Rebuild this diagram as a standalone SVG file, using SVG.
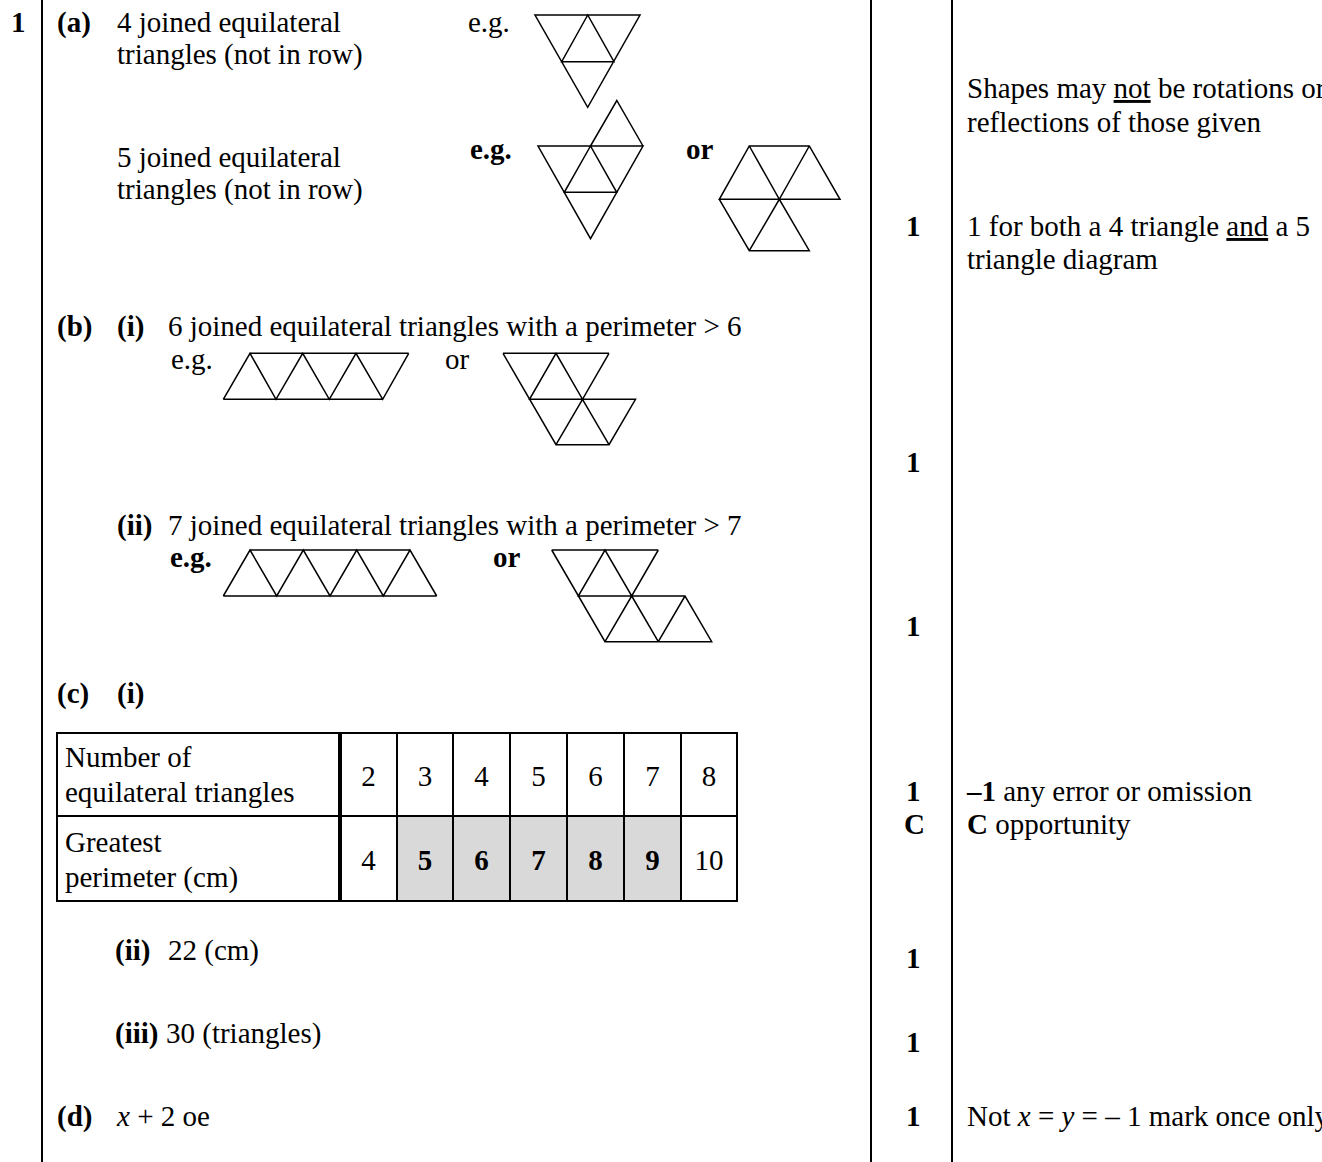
<svg xmlns="http://www.w3.org/2000/svg" width="1322" height="1162" viewBox="0 0 1322 1162">
<style>
text{font-family:"Liberation Serif","Times New Roman",serif;font-size:29px;fill:#000}
.b{font-weight:bold}
.i{font-style:italic}
.u{text-decoration:underline}
.rule{stroke:#000;stroke-width:2;fill:none}
.tri{stroke:#000;stroke-width:1.5;fill:none;stroke-linejoin:miter}
.grid{stroke:#000;stroke-width:2;fill:none}
.shade{fill:#d9d9d9}
.c{text-anchor:middle}
</style>
<rect width="1322" height="1162" fill="#fff"/>

<g id="rules">
<line class="rule" x1="42" y1="0" x2="42" y2="1162"/>
<line class="rule" x1="871" y1="0" x2="871" y2="1162"/>
<line class="rule" x1="952" y1="0" x2="952" y2="1162"/>
</g>

<g id="part-a">
<text class="b" x="11" y="32">1</text>
<text class="b" x="57" y="32">(a)</text>
<text x="117" y="32">4 joined equilateral</text>
<text x="117" y="64">triangles (not in row)</text>
<text x="468" y="32">e.g.</text>
<g id="shape-a4" class="tri">
<path d="M535,15 L640,15 L587.7,107.3 Z M587.7,15 L561.7,61.7 L614,61.7 Z"/>
</g>
<text x="117" y="167">5 joined equilateral</text>
<text x="117" y="199">triangles (not in row)</text>
<text class="b" x="470" y="159">e.g.</text>
<g id="shape-a5" class="tri">
<path d="M538,146 L643,146 L590.5,238.7 Z M590.5,146 L564.3,192.3 L616.7,192.3 Z M590.5,146 L616.8,100.5 L643,146"/>
</g>
<text class="b" x="686" y="159">or</text>
<g id="shape-a5b" class="tri">
<path d="M749.3,146 L809.3,146 L840,199.3 L719.3,199.3 Z M749.3,146 L779.3,199.3 L809.3,146 M719.3,199.3 L749.3,250.7 L809.3,250.7 L779.3,199.3 L749.3,250.7"/>
</g>
</g>

<g id="part-b">
<text class="b" x="57" y="336">(b)</text>
<text class="b" x="117" y="336">(i)</text>
<text x="168" y="336">6 joined equilateral triangles with a perimeter &gt; 6</text>
<text x="171" y="369">e.g.</text>
<g id="shape-b6a" class="tri">
<path d="M250,353.3 L408.7,353.3 M223.3,399.3 L382.7,399.3 M223.3,399.3 L250,353.3 L276,399.3 L302.7,353.3 L329.3,399.3 L356,353.3 L382.7,399.3 L408.7,353.3"/>
</g>
<text x="445" y="369">or</text>
<g id="shape-b6b" class="tri">
<path d="M503,353.3 L609,353.3 M503,353.3 L556,444.7 L609,444.7 L635.5,399.3 L529.5,399.3 L556,353.3 L582.5,399.3 L609,353.3 M582.5,399.3 L556,444.7 M582.5,399.3 L609,444.7"/>
</g>
<text class="b" x="117" y="535">(ii)</text>
<text x="168" y="535">7 joined equilateral triangles with a perimeter &gt; 7</text>
<text class="b" x="170" y="567">e.g.</text>
<g id="shape-b7a" class="tri">
<path d="M250,550 L410,550 M223.3,596 L436.7,596 M223.3,596 L250,550 L276.7,596 L303.3,550 L330,596 L356.7,550 L383.3,596 L410,550 L436.7,596"/>
</g>
<text class="b" x="493" y="567">or</text>
<g id="shape-b7b" class="tri">
<path d="M551.7,550 L658.3,550 M551.7,550 L605,641.7 L711.7,641.7 L685,596 L578.3,596 L605,550 L631.7,596 L658.3,550 M631.7,596 L605,641.7 M631.7,596 L658.3,641.7 M685,596 L658.3,641.7"/>
</g>
</g>

<g id="part-c">
<text class="b" x="57" y="703">(c)</text>
<text class="b" x="117" y="703">(i)</text>
<g id="table">
<rect class="shade" x="397" y="816" width="284" height="85"/>
<rect class="grid" x="57" y="733" width="680" height="168"/>
<line class="grid" x1="57" y1="816" x2="737" y2="816"/>
<line stroke="#000" stroke-width="4" x1="340" y1="733" x2="340" y2="901"/>
<line class="grid" x1="397" y1="733" x2="397" y2="901"/>
<line class="grid" x1="453" y1="733" x2="453" y2="901"/>
<line class="grid" x1="510" y1="733" x2="510" y2="901"/>
<line class="grid" x1="567" y1="733" x2="567" y2="901"/>
<line class="grid" x1="624" y1="733" x2="624" y2="901"/>
<line class="grid" x1="681" y1="733" x2="681" y2="901"/>
<text x="65" y="767">Number of</text>
<text x="65" y="802">equilateral triangles</text>
<text class="c" x="368.5" y="786">2</text>
<text class="c" x="425" y="786">3</text>
<text class="c" x="481.5" y="786">4</text>
<text class="c" x="538.5" y="786">5</text>
<text class="c" x="595.5" y="786">6</text>
<text class="c" x="652.5" y="786">7</text>
<text class="c" x="709" y="786">8</text>
<text x="65" y="852">Greatest</text>
<text x="65" y="887">perimeter (cm)</text>
<text class="c" x="368.5" y="870">4</text>
<text class="c b" x="425" y="870">5</text>
<text class="c b" x="481.5" y="870">6</text>
<text class="c b" x="538.5" y="870">7</text>
<text class="c b" x="595.5" y="870">8</text>
<text class="c b" x="652.5" y="870">9</text>
<text class="c" x="709" y="870">10</text>
</g>
<text class="b" x="115" y="960">(ii)</text>
<text x="168" y="960">22 (cm)</text>
<text class="b" x="115" y="1043">(iii)</text>
<text x="166" y="1043">30 (triangles)</text>
</g>

<g id="part-d">
<text class="b" x="57" y="1126">(d)</text>
<text x="117" y="1126"><tspan class="i">x</tspan> + 2 oe</text>
</g>

<g id="marks">
<text class="b" x="906" y="236">1</text>
<text class="b" x="906" y="472">1</text>
<text class="b" x="906" y="636">1</text>
<text class="b" x="906" y="801">1</text>
<text class="b" x="904" y="834">C</text>
<text class="b" x="906" y="968">1</text>
<text class="b" x="906" y="1052">1</text>
<text class="b" x="906" y="1126">1</text>
</g>

<g id="comments">
<text x="967" y="98">Shapes may <tspan class="u">not</tspan> be rotations or</text>
<text x="967" y="132">reflections of those given</text>
<text x="967" y="236">1 for both a 4 triangle <tspan class="u">and</tspan> a 5</text>
<text x="967" y="269">triangle diagram</text>
<text x="967" y="801"><tspan class="b">–1</tspan> any error or omission</text>
<text x="967" y="834"><tspan class="b">C</tspan> opportunity</text>
<text x="967" y="1126">Not <tspan class="i">x</tspan> = <tspan class="i">y</tspan> = – 1 mark once only</text>
</g>
</svg>
